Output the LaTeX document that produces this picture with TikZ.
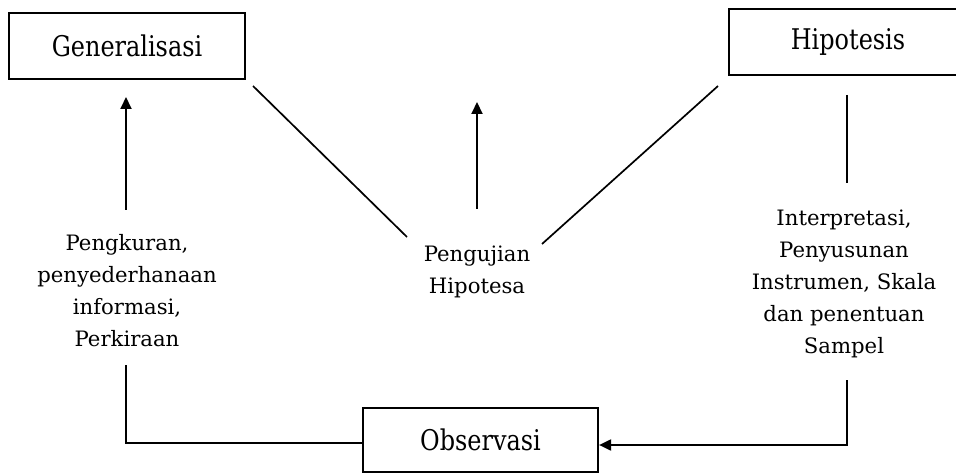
\documentclass[tikz,border=0pt]{standalone}
\usepackage{fontspec}
\setmainfont{DejaVu Serif}
\newfontfamily\bigserif[FakeStretch=0.84]{DejaVu Serif}
\usetikzlibrary{arrows.meta}
\begin{document}
\begin{tikzpicture}[x=1pt,y=-1pt,
  box/.style={draw,line width=2.2pt,rectangle,inner sep=0pt,font=\bigserif\fontsize{28.5}{34}\selectfont},
  lbl/.style={align=center,inner sep=0pt,font=\fontsize{21.2}{32}\selectfont},
  conn/.style={line width=1.7pt},
  arr/.style={line width=2pt,-{Triangle[length=12pt,width=11pt]}}]
\useasboundingbox (0,0) rectangle (956,473);
\node[box,minimum width=236pt,minimum height=66pt] (gen) at (127,46) {Generalisasi};
\node[box,minimum width=238pt,minimum height=66pt] (hip) at (848,42) {Hipotesis};
\node[box,minimum width=235pt,minimum height=64pt] (obs) at (480.5,440) {Observasi};
\node[lbl] (left) at (127,291) {Pengkuran,\\penyederhanaan\\informasi,\\Perkiraan};
\node[lbl] (mid) at (477,272) {Pengujian\\Hipotesa};
\node[lbl] (right) at (844,284) {Interpretasi,\\Penyusunan\\Instrumen,\ Skala\\dan penentuan\\Sampel};
\coordinate (la1) at (126,210); \coordinate (la2) at (126,97);
\coordinate (ma1) at (477,209); \coordinate (ma2) at (477,102);
\coordinate (d1a) at (253,86); \coordinate (d1b) at (407,237);
\coordinate (d2a) at (718,86); \coordinate (d2b) at (542,244);
\coordinate (rv1) at (847,95); \coordinate (rv2) at (847,183);
\coordinate (rb1) at (847,380); \coordinate (rb2) at (847,445);
\coordinate (lb1) at (126,365); \coordinate (lb2) at (126,443);
\draw[arr] (la1) -- (la2);
\draw[arr] (ma1) -- (ma2);
\draw[conn] (d1a) -- (d1b);
\draw[conn] (d2a) -- (d2b);
\draw[conn] (rv1) -- (rv2);
\draw[arr] (rb1) -- (rb2) -- (obs.east |- rb2);
\draw[conn] (lb1) -- (lb2) -- (obs.west |- lb2);
\end{tikzpicture}
\end{document}
